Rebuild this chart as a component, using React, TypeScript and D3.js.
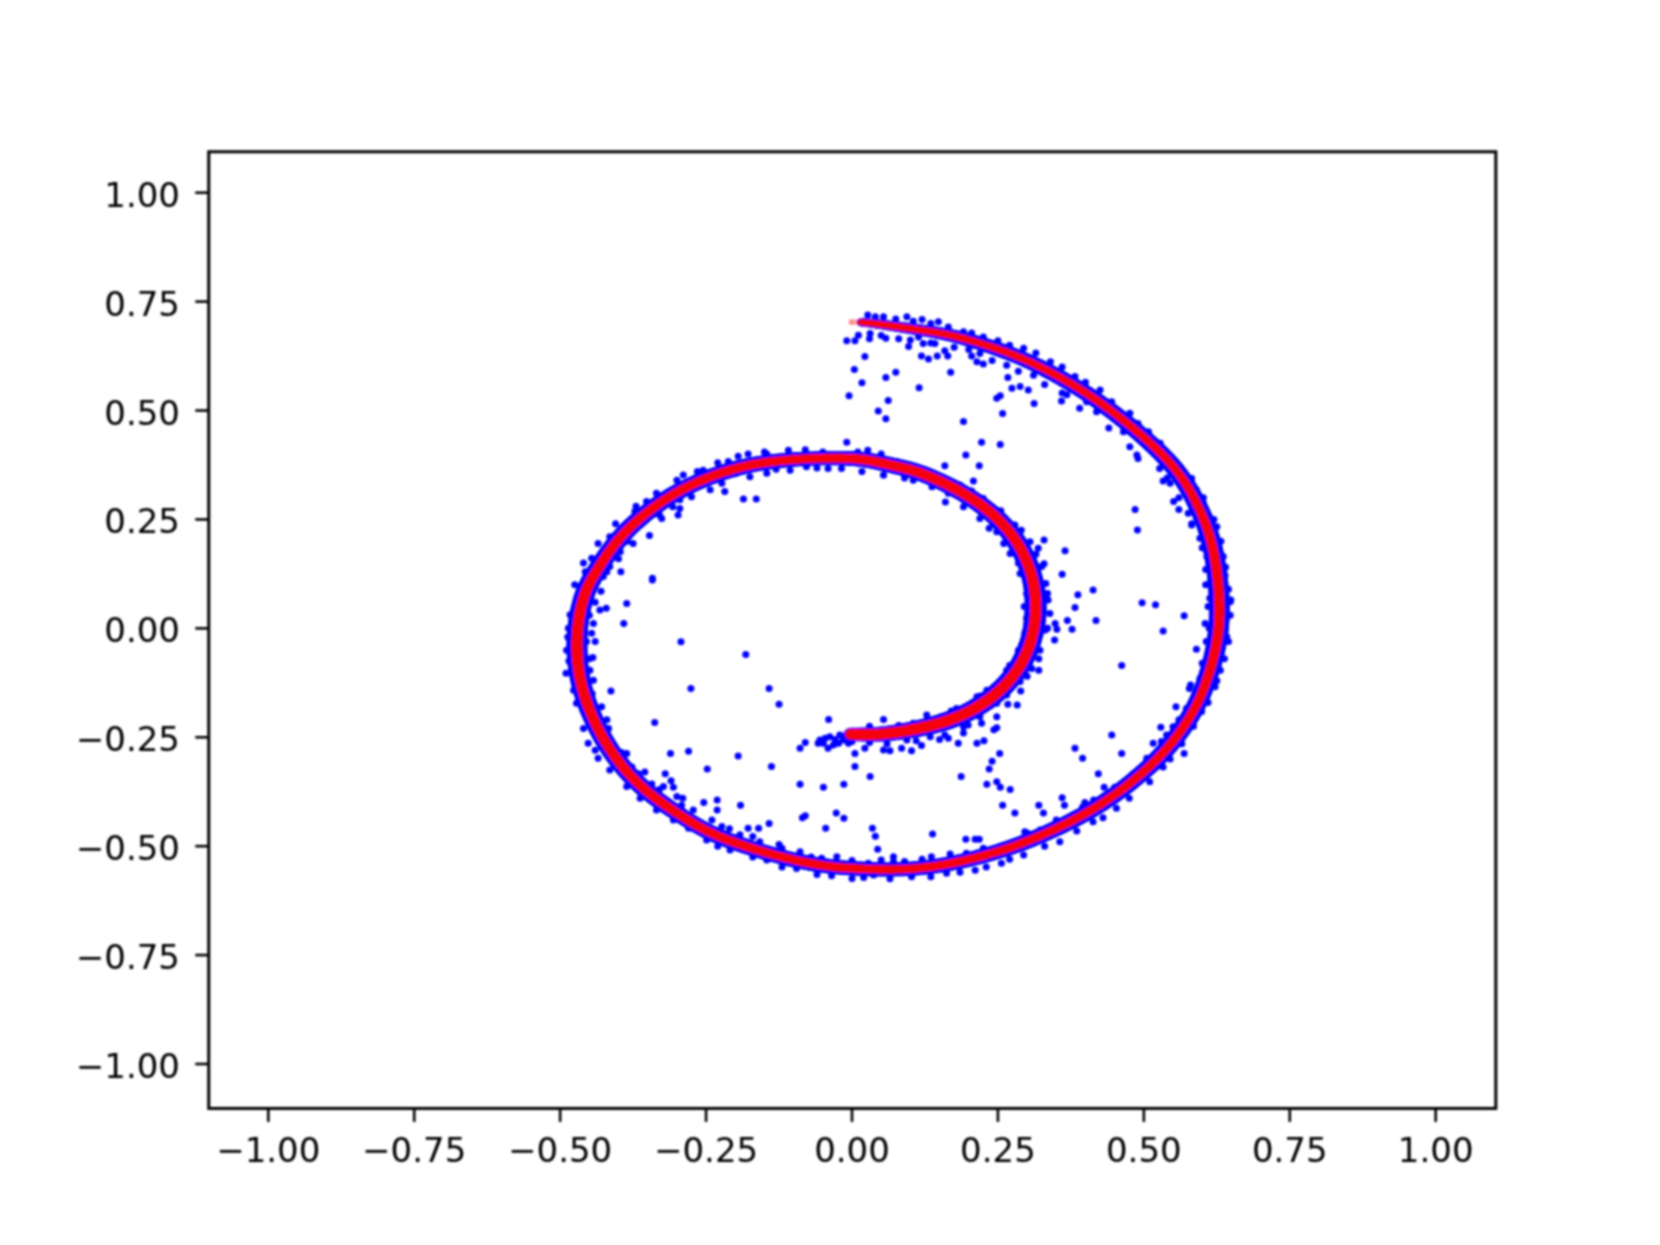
import React from "react";
import * as d3 from "d3";

const xTicks = [-1, -0.75, -0.5, -0.25, 0, 0.25, 0.5, 0.75, 1];
const yTicks = [-1, -0.75, -0.5, -0.25, 0, 0.25, 0.5, 0.75, 1];

// Red fitted spiral, outer tip to inner tip
const redCurve: number[][] = [
  [-0.005,0.703],[0.019,0.703],[0.06,0.696],[0.117,0.685],[0.173,0.673],[0.231,0.65],[0.288,0.623],[0.344,0.586],[0.403,0.54],[0.459,0.485],
  [0.516,0.421],[0.562,0.357],[0.591,0.288],[0.613,0.219],[0.625,0.141],[0.631,0.049],[0.627,-0.027],[0.613,-0.102],[0.591,-0.181],[0.55,-0.263],
  [0.505,-0.325],[0.447,-0.387],[0.391,-0.433],[0.334,-0.47],[0.276,-0.502],[0.219,-0.525],[0.151,-0.546],[0.082,-0.555],[0.009,-0.552],[-0.05,-0.546],
  [-0.118,-0.527],[-0.192,-0.497],[-0.248,-0.468],[-0.295,-0.429],[-0.341,-0.387],[-0.38,-0.341],[-0.42,-0.272],[-0.449,-0.194],[-0.466,-0.125],[-0.473,-0.05],
  [-0.469,0.026],[-0.457,0.088],[-0.44,0.127],[-0.415,0.18],[-0.384,0.23],[-0.341,0.278],[-0.295,0.318],[-0.238,0.352],[-0.18,0.375],[-0.123,0.386],
  [-0.06,0.391],[-0.003,0.391],[0.031,0.386],[0.082,0.37],[0.117,0.359],[0.185,0.317],[0.242,0.265],[0.283,0.203],[0.31,0.127],[0.318,0.04],
  [0.305,-0.05],[0.271,-0.125],[0.219,-0.181],[0.163,-0.215],[0.105,-0.233],[0.048,-0.245],[-0.003,-0.243],
];

// Scattered samples between the spiral turns
const blueUpperRight: number[][] = [
  [-0.009,0.66],[0.005,0.66],[0.022,0.624],[0.004,0.594],[0.058,0.576],[0.075,0.588],[0.017,0.564],[-0.005,0.534],[0.062,0.523],[0.045,0.499],
  [0.058,0.481],[0.115,0.552],[0.169,0.588],[0.097,0.647],[0.058,0.666],[0.119,0.625],[0.131,0.618],[0.146,0.625],[0.159,0.637],[0.164,0.625],
  [0.122,0.654],[0.142,0.654],[0.205,0.625],[0.214,0.612],[0.225,0.607],[0.267,0.576],[0.274,0.551],[0.288,0.555],[0.302,0.547],[0.254,0.534],
  [0.248,0.528],[0.312,0.516],[0.258,0.493],[0.359,0.522],[0.368,0.536],[0.191,0.475],[0.222,0.427],[0.254,0.422],[0.195,0.398],[0.218,0.373],
  [0.159,0.373],[0.208,0.338],[-0.009,0.427],[0.027,0.409],[0.485,0.273],[0.489,0.226],[0.533,0.338],[0.551,0.291],[0.56,0.273],[0.582,0.237],
  [0.606,0.135],[0.329,0.203],[0.319,0.184],[0.365,0.178],[0.329,0.148],[0.36,0.124],[0.387,0.077],[0.413,0.088],[0.382,0.048],[0.497,0.059],
  [0.52,0.054],[0.649,0.065],
];
const blueLowerRight: number[][] = [
  [0.569,0.029],[0.605,0.011],[0.533,-0.006],[0.369,0.018],[0.377,-0.002],[0.418,0.018],[0.348,0.011],[0.351,-0.002],[0.347,-0.027],[0.59,-0.048],
  [0.462,-0.085],[0.32,-0.096],[0.289,-0.144],[0.578,-0.138],[0.555,-0.18],[0.283,-0.176],[0.267,-0.174],[0.248,-0.203],[0.248,-0.228],[0.243,-0.233],
  [0.222,-0.218],[0.199,-0.222],[0.191,-0.24],[0.226,-0.258],[0.214,-0.264],[0.182,-0.264],[0.165,-0.252],[0.159,-0.245],[0.119,-0.269],[0.102,-0.281],
  [0.085,-0.275],[0.065,-0.281],[0.054,-0.279],[0.054,-0.209],[0.128,-0.199],[0.253,-0.287],[0.24,-0.305],[0.235,-0.323],[0.187,-0.34],[0.231,-0.358],
  [0.248,-0.352],[0.254,-0.365],[0.271,-0.37],[0.258,-0.406],[0.279,-0.424],[0.32,-0.406],[0.328,-0.424],[0.36,-0.389],[0.364,-0.406],[0.382,-0.275],
  [0.395,-0.298],[0.445,-0.245],[0.462,-0.287],[0.422,-0.334],[0.432,-0.365],[0.529,-0.227],[0.516,-0.264],[0.539,-0.245],[0.569,-0.287],[0.138,-0.472],
  [0.195,-0.484],[0.211,-0.484],[0.218,-0.484],[0.071,-0.524],[0.296,-0.467],[0.399,-0.4],[0.442,-0.379],
];
const blueLowerLeft: number[][] = [
  [-0.386,0.057],[-0.391,0.011],[-0.342,0.111],[-0.421,0.046],[-0.293,-0.031],[-0.182,-0.06],[-0.444,-0.067],[-0.276,-0.138],[-0.142,-0.138],[-0.125,-0.174],
  [-0.413,-0.144],[-0.338,-0.216],[-0.04,-0.209],[-0.08,-0.262],[-0.089,-0.275],[-0.311,-0.287],[-0.28,-0.282],[-0.195,-0.293],[-0.248,-0.323],[-0.138,-0.317],
  [-0.32,-0.334],[-0.089,-0.358],[-0.049,-0.365],[-0.014,-0.358],[0.005,-0.317],[0.031,-0.34],[0.005,-0.287],[0.022,-0.275],[-0.254,-0.4],[-0.231,-0.394],
  [-0.231,-0.417],[-0.191,-0.406],[-0.08,-0.43],[-0.085,-0.435],[-0.027,-0.424],[-0.014,-0.436],[-0.045,-0.459],[-0.142,-0.448],[-0.178,-0.459],[-0.16,-0.459],
  [0.035,-0.459],[0.04,-0.477],[0.044,-0.507],[-0.125,-0.496],
];
const blueInnerTipCluster: number[][] = [
  [-0.055,-0.256],[-0.049,-0.264],[-0.038,-0.249],[-0.032,-0.268],[-0.021,-0.245],[-0.015,-0.256],[-0.006,-0.264],[-0.041,-0.275],[-0.023,-0.264],[-0.058,-0.264],
  [-0.046,-0.252],[-0.029,-0.255],[-0.012,-0.247],
];
const blueUpperLeft: number[][] = [
  [-0.186,0.297],[-0.164,0.297],[-0.347,0.213],[-0.396,0.13],[-0.342,0.115],[-0.289,0.352],[-0.218,0.314],[-0.298,0.26],[-0.295,0.275],[-0.307,0.279],
  [-0.326,0.252],[-0.415,0.21],[-0.178,0.4],[-0.109,0.409],[-0.146,0.4],[-0.255,0.363],[-0.212,0.383],[-0.457,0.13],[-0.446,0.161],[-0.375,0.195],
  [-0.372,0.268],[-0.352,0.291],[-0.175,0.348],[-0.146,0.356],[0.017,0.36],[0.054,0.352],[-0.041,0.367],[-0.018,0.367],[-0.106,0.363],[-0.078,0.371],
  [-0.223,0.333],[-0.243,0.318],[-0.275,0.302],[-0.295,0.295],[-0.397,0.176],[-0.415,0.142],[-0.426,0.119],
];
// Samples hugging the spiral, so its edge stays uneven
const blueEdgeLeft: number[][] = [
  [-0.432,0.042],[-0.443,0.011],[-0.446,-0.011],[-0.449,-0.096],[-0.443,-0.119],[-0.429,-0.18],[-0.42,-0.21],[-0.417,-0.23],[-0.386,-0.287],[-0.377,-0.318],
  [-0.366,-0.334],[-0.343,-0.357],[-0.323,-0.363],[-0.306,-0.365],[-0.3,-0.386],[-0.292,-0.406],[-0.272,-0.417],[-0.24,-0.44],[-0.223,-0.455],[-0.192,-0.474],
  [-0.158,-0.49],[-0.089,-0.513],[-0.052,-0.528],[-0.026,-0.524],[0.028,-0.539],[-0.489,-0.05],[-0.49,-0.103],[-0.486,0],[-0.483,0.031],[-0.469,0.077],
  [-0.477,-0.142],[-0.472,-0.172],[-0.452,-0.264],[-0.435,-0.298],[-0.415,-0.325],[-0.386,-0.363],[-0.363,-0.39],[-0.335,-0.417],[-0.306,-0.44],[-0.28,-0.459],
  [-0.249,-0.486],[-0.209,-0.509],[-0.146,-0.532],[-0.095,-0.551],[-0.035,-0.568],[0,-0.574],[0.037,-0.566],
  [-0.33,-0.37],[-0.29,-0.39],[-0.31,-0.35],[-0.355,-0.33],[-0.395,-0.285],[-0.415,-0.255],[-0.44,-0.19],[-0.445,-0.15],[-0.455,-0.12],[-0.45,-0.07],
  [-0.455,-0.03],[-0.45,0.03],[-0.44,0.06],[-0.43,0.085],[-0.44,-0.03],[-0.485,-0.075],[-0.487,-0.02],[-0.46,-0.23],[-0.44,-0.28],
  [-0.475,0.1],[-0.46,0.15],[-0.435,0.195],[-0.405,0.24],[-0.37,0.28],[-0.335,0.31],[-0.3,0.34],[-0.265,0.36],[-0.23,0.38],[-0.195,0.395],
  [-0.15,0.405],[-0.08,0.41],[-0.05,0.405],[0.01,0.405],[0.05,0.4],[-0.42,0.13],[-0.4,0.16],[-0.385,0.2],[-0.36,0.24],[-0.33,0.26],
  [-0.26,0.33],[-0.2,0.355],[-0.13,0.365],[-0.06,0.368],
];
const blueEdgeBottom: number[][] = [
  [0.102,-0.57],[0.162,-0.562],[0.211,-0.555],[0.256,-0.539],[0.294,-0.52],[0.356,-0.49],[0.413,-0.444],[0.453,-0.413],[0.51,-0.352],[0.533,-0.318],
  [0.599,-0.191],[0.622,-0.134],[0.631,-0.096],[0.642,-0.019],[0.648,0.061],[0.071,-0.536],[0.136,-0.524],[0.168,-0.518],[0.196,-0.516],[0.248,-0.505],
  [0.322,-0.463],[0.345,-0.454],[0.374,-0.434],[0.414,-0.394],[0.482,-0.333],[0.505,-0.298],[0.55,-0.226],[0.573,-0.184],[0.588,-0.149],[0.596,-0.115],
  [0.611,-0.054],
  [0.475,-0.39],[0.43,-0.435],[0.385,-0.465],[0.33,-0.5],[0.27,-0.53],[0.23,-0.548],[0.185,-0.56],[0.135,-0.57],[0.065,-0.575],[0.02,-0.572],
  [-0.06,-0.565],[-0.12,-0.548],[-0.17,-0.525],[-0.23,-0.5],[0.45,-0.365],[0.395,-0.41],[0.35,-0.44],[0.3,-0.47],[0.225,-0.505],[0.12,-0.53],
  [0.09,-0.535],[0.05,-0.532],[0,-0.533],[-0.07,-0.525],[-0.12,-0.505],[-0.17,-0.478],[-0.21,-0.46],
];
const blueEdgeInner: number[][] = [
  [0.336,0.065],[0.339,0.034],[0.331,-0.004],[0.322,-0.05],[0.308,-0.092],[0.288,-0.122],[0.265,-0.153],[0.248,-0.172],[0.219,-0.203],[0.191,-0.226],
  [0.134,-0.249],[0.094,-0.256],[0.299,0.023],[0.296,-0.011],[0.285,-0.05],[0.265,-0.096],[0.231,-0.142],[0.214,-0.157],[0.179,-0.184],[0.105,-0.218],
  [0.077,0.383],[0.128,0.363],[0.185,0.329],[0.225,0.298],[0.279,0.237],[0.305,0.199],[0.325,0.142],[0.332,0.103],[0.054,0.352],[0.105,0.34],
  [0.137,0.325],[0.191,0.279],[0.219,0.252],[0.248,0.222],[0.271,0.172],[0.288,0.126],[0.299,0.08],
  [0.09,0.345],[0.165,0.31],[0.16,0.34],[0.205,0.315],[0.255,0.27],[0.29,0.225],[0.315,0.17],[0.335,0.08],[0.335,0],[0.32,-0.07],
  [0.3,-0.11],[0.24,-0.165],[0.2,-0.195],[0.15,-0.22],[0.08,-0.223],[0.03,-0.225],[0.16,0.29],[0.235,0.23],[0.26,0.195],[0.285,0.15],
  [0.295,0.05],[0.29,-0.04],[0.27,-0.085],[0.22,-0.155],[0.17,-0.19],[0.06,-0.265],[0.11,-0.258],[0.15,-0.255],[0.03,-0.262],[0,-0.26],
];
const blueEdgeTop: number[][] = [
  [0.027,0.719],[0.054,0.715],[0.094,0.715],[0.12,0.709],[0.148,0.704],[0.191,0.681],[0.225,0.669],[0.294,0.643],[0.34,0.612],[0.382,0.578],
  [0.425,0.547],[0.476,0.494],[0.508,0.451],[0.528,0.425],[0.553,0.379],[0.582,0.344],[0.59,0.318],[0.602,0.287],[0.625,0.233],[0.636,0.165],
  [0.639,0.122],[0.011,0.673],[0.031,0.677],[0.114,0.669],[0.219,0.631],[0.265,0.604],[0.311,0.581],[0.402,0.52],[0.419,0.497],[0.465,0.451],
  [0.476,0.417],[0.488,0.398],[0.527,0.367],[0.545,0.333],[0.576,0.264],[0.596,0.207],[0.608,0.165],[0.613,0.103],[0.613,0.069],
  [0.04,0.715],[0.075,0.71],[0.105,0.705],[0.135,0.7],[0.165,0.692],[0.205,0.678],[0.25,0.66],[0.27,0.65],[0.315,0.632],[0.36,0.6],
  [0.4,0.565],[0.445,0.52],[0.49,0.47],[0.03,0.665],[0.05,0.672],[0.08,0.665],[0.1,0.662],[0.135,0.655],[0.175,0.645],[0.2,0.64],
  [0.24,0.615],[0.285,0.59],[0.33,0.56],[0.36,0.54],[0.39,0.505],[0.44,0.46],[0.49,0.39],[0.602,0.3],[0.62,0.25],[0.632,0.2],
  [0.64,0.14],[0.645,0.09],[0.648,0.03],[0.645,-0.03],[0.638,-0.07],[0.625,-0.12],[0.61,-0.17],[0.585,-0.225],[0.565,-0.265],[0.545,-0.3],
  [0.54,0.345],[0.56,0.3],[0.582,0.24],[0.6,0.185],[0.606,0.1],[0.61,0.05],[0.612,0],[0.607,-0.03],[0.6,-0.08],[0.58,-0.13],
  [0.56,-0.21],[0.53,-0.26],
];

const bluePoints = [
  ...blueUpperRight, ...blueLowerRight, ...blueLowerLeft, ...blueInnerTipCluster, ...blueUpperLeft,
  ...blueEdgeLeft, ...blueEdgeBottom, ...blueEdgeInner, ...blueEdgeTop,
];

const W = 1660, H = 1245;
const x = d3.scaleLinear().domain([-1, 1]).range([268.3, 1435.7]);
const y = d3.scaleLinear().domain([-1, 1]).range([1064, 192.7]);
const xLim = [-1.102, 1.103];
const yLim = [-1.102, 1.094];

const lastIdx = redCurve.length - 1;
const widthScale = (stops: number[][]) =>
  d3.scaleLinear().domain(stops.map((s) => s[0])).range(stops.map((s) => s[1])).clamp(true);
const blueWidth = widthScale([[0,7],[2,10],[5,14],[10,17],[15,21],[20,17],[27,14],[33,16],[39,21],[45,17],[50,14],[55,17],[59,22],[63,18],[66,13]]);
const redWidth = widthScale([[0,5],[2,6.5],[10,8],[15,10],[20,8.5],[27,8],[33,9],[39,11],[45,9],[50,8.5],[55,10],[59,11],[66,10.5]]);

const curveX = d3.interpolateBasis(redCurve.map((p) => p[0]));
const curveY = d3.interpolateBasis(redCurve.map((p) => p[1]));
const STEPS = 900;
const samples = d3.range(STEPS + 1).map((i) => {
  const t = i / STEPS;
  return { idx: t * lastIdx, px: x(curveX(t)), py: y(curveY(t)) };
});
const pairs = d3.pairs(samples);

const TXT = { fontFamily: "'DejaVu Sans'", fontSize: 34, fill: "#000" };
const fmt = (v: number) => v.toFixed(2).replace("-", "\u2212");

export default function App() {
  return (
    <svg width={W} height={H} viewBox={`0 0 ${W} ${H}`} style={{ position: "absolute", left: 0, top: 0, background: "#fff" }}>
      <defs>
        <filter id="soft" x="0" y="0" width={W} height={H} filterUnits="userSpaceOnUse">
          <feGaussianBlur stdDeviation="0.85" />
        </filter>
      </defs>
      <g filter="url(#soft)">
        <g>
          {pairs.filter(([a]) => a.idx > 0.8).map(([a, b], i) => (
            <line key={i} x1={a.px} y1={a.py} x2={b.px} y2={b.py} stroke="#0000ff" strokeWidth={blueWidth(a.idx)} strokeLinecap="round" />
          ))}
          {bluePoints.map((p, i) => (
            <circle key={i} cx={x(p[0])} cy={y(p[1])} r={3.5} fill="#0000ff" />
          ))}
        </g>
        <g opacity={0.96}>
          {pairs.filter(([a]) => a.idx > 0.8).map(([a, b], i) => (
            <line key={i} x1={a.px} y1={a.py} x2={b.px} y2={b.py} stroke="#ff0000" strokeWidth={redWidth(a.idx)} strokeLinecap="round" />
          ))}
        </g>
        <g opacity={0.5}>
          {pairs.filter(([a]) => a.idx <= 0.8).map(([a, b], i) => (
            <line key={i} x1={a.px} y1={a.py} x2={b.px} y2={b.py} stroke="#ff0000" strokeWidth={redWidth(a.idx)} strokeLinecap="butt" />
          ))}
        </g>
        <rect x={x(xLim[0])} y={y(yLim[1])} width={x(xLim[1]) - x(xLim[0])} height={y(yLim[0]) - y(yLim[1])} fill="none" stroke="#000" strokeWidth={3} />
        {xTicks.map((t) => (
          <g key={t}>
            <line x1={x(t)} x2={x(t)} y1={y(yLim[0])} y2={y(yLim[0]) + 13.5} stroke="#000" strokeWidth={2.6} />
            <text x={x(t)} y={1162} textAnchor="middle" {...TXT}>{fmt(t)}</text>
          </g>
        ))}
        {yTicks.map((t) => (
          <g key={t}>
            <line x1={x(xLim[0]) - 13.5} x2={x(xLim[0])} y1={y(t)} y2={y(t)} stroke="#000" strokeWidth={2.6} />
            <text x={180} y={y(t) + 14} textAnchor="end" {...TXT}>{fmt(t)}</text>
          </g>
        ))}
      </g>
    </svg>
  );
}
